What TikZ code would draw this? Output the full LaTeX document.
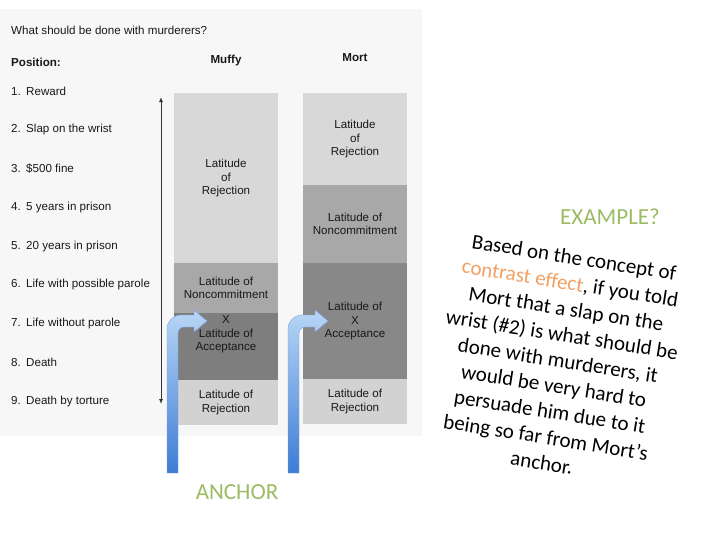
\documentclass[tikz,border=0pt]{standalone}
\usepackage{fontspec}
\setmainfont{Liberation Sans}
\newfontfamily\slidefont{Carlito}
\usetikzlibrary{arrows.meta,positioning,calc}
\definecolor{scan}{RGB}{247,247,247}
\definecolor{rejgray}{RGB}{216,216,216}
\definecolor{noncgray}{RGB}{168,168,168}
\definecolor{accgray}{RGB}{126,126,126}
\definecolor{lowgray}{RGB}{210,210,210}
\definecolor{olive}{RGB}{155,187,100}
\definecolor{orange}{RGB}{242,160,100}
\definecolor{lightblue}{RGB}{184,214,246}
\definecolor{deepblue}{RGB}{62,124,212}

\begin{document}
\begin{tikzpicture}[x=1pt,y=-1pt]

		\def\colw{104}
		\def\lsp{38.75}

		\tikzset{txt/.style={font=\fontsize{11.6}{13.5}\selectfont,inner sep=0pt,text=black!90}}
		\tikzset{head/.style={txt,font=\fontsize{11.6}{13.5}\selectfont\bfseries}}
		\tikzset{band/.style={txt,minimum width=\colw pt,align=center,anchor=north,outer sep=0pt}}
		\tikzset{slide/.style={font=\slidefont\fontsize{23}{28}\selectfont,inner sep=0pt}}
		\tikzset{scalearrow/.style={draw=black!80,line width=0.9pt,{Latex[length=5pt,width=4pt]}-{Latex[length=5pt,width=4pt]}}}

		% Anchor arrow: head base offset
		\tikzset{pics/anchorarrow/.style={code={%
							\path[top color=lightblue,bottom color=deepblue,draw=deepblue!70,line width=0.4pt]
								(0,158) -- (0,14) to[out=90,in=180] (14,0) -- (#1,0) -- (#1,-5)
								-- (#1+13,6) -- (#1,17) -- (#1,12) -- (17,12) to[out=180,in=90] (11,18)
								-- (11,158) -- cycle;
						}}}

		\useasboundingbox (0,0) rectangle (720,539);
		\fill[scan] (0,9) rectangle (422,436);

		\node[txt,anchor=west] (question) at (11,30) {What should be done with murderers?};
		\node[head,anchor=west] (position) at (11,62) {Position:};
		\node[head] (muffy) at (226,60) {Muffy};
		\node[head] (mort) at (355,58) {Mort};

		\foreach \i/\entry in {1/Reward,2/Slap on the wrist,3/\$500 fine,4/5 years in prison,5/20 years in prison,6/Life with possible parole,7/Life without parole,8/Death,9/Death by torture}
			\node[txt,anchor=west] (pos\i) at (11,{91+(\i-1)*\lsp}) {\makebox[15pt][l]{\i.}\entry};

		\coordinate (scaletop) at (161,97);
		\coordinate (scalebot) at (161,404);
		\draw[scalearrow] (scaletop) -- (scalebot);

		\node[band,fill=rejgray,minimum height=170pt] (mrej) at (226,93) {Latitude\\of\\Rejection};
		\node[band,fill=noncgray,minimum height=50pt,below=0pt of mrej] (mnon) {Latitude of\\Noncommitment};
		\node[band,fill=accgray,minimum height=67pt,below=0pt of mnon] (macc) {};
		\node[band,fill=lowgray,minimum height=45pt,below=0pt of macc] (mlow) {Latitude of\\Rejection};
		\node[txt,align=center,yshift=12pt] (macctext) at (macc) {X\\Latitude of\\Acceptance};

		\node[band,fill=rejgray,minimum height=92pt] (orej) at (355,93) {Latitude\\of\\Rejection};
		\node[band,fill=noncgray,minimum height=78pt,below=0pt of orej] (onon) {Latitude of\\Noncommitment};
		\node[band,fill=accgray!92,minimum height=116pt,below=0pt of onon] (oacc) {Latitude of\\X\\Acceptance};
		\node[band,fill=lowgray,minimum height=45pt,below=0pt of oacc] (olow) {Latitude of\\Rejection};

		\pic (marrow) at (167,315) {anchorarrow=27};
		\pic (oarrow) at (288,315) {anchorarrow=27};

		\node[slide,text=olive] (anchor) at (237,492) {ANCHOR};
		\node[slide,text=olive] (example) at (610,217) {EXAMPLE?};

		\node[slide,font=\slidefont\fontsize{21}{26}\selectfont,align=center,rotate=-9] (question2) at (558,360)
			{Based on the concept of\\\textcolor{orange}{contrast effect}, if you told\\Mort that a slap on the\\wrist (\#2) is what should be\\done with murderers, it\\would be very hard to\\persuade him due to it\\being so far from Mort’s\\anchor.};

	\end{tikzpicture}
\end{document}
